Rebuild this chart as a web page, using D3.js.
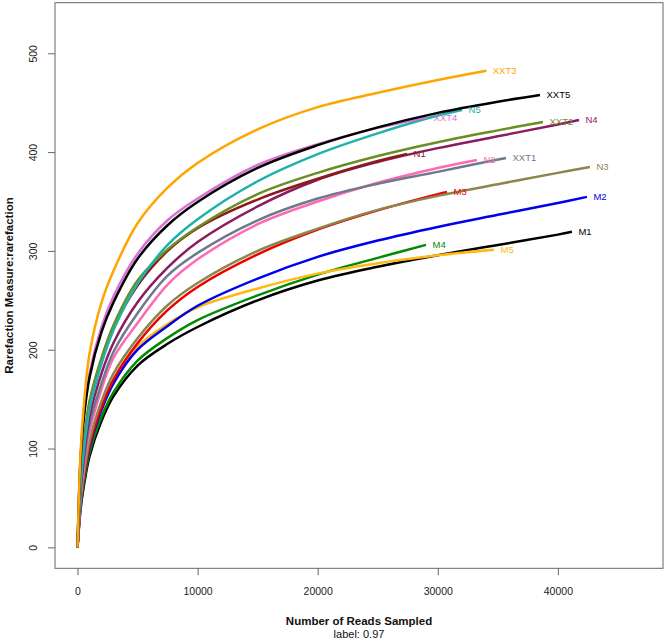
<!DOCTYPE html>
<html>
<head>
<meta charset="utf-8">
<script src="https://cdn.jsdelivr.net/npm/d3@7"></script>
<style>
  html, body { margin: 0; padding: 0; background: #fff; }
  svg { display: block; font-family: "Liberation Sans", Arial, Helvetica, sans-serif; }
</style>
</head>
<body>
<svg id="chart" width="666" height="639"></svg>
<script>
// ---------------- data ----------------
const readsGrid = [0, 250, 500, 1000, 2000, 3000, 5000, 7500, 10000, 15000, 20000, 25000, 30000, 35000, 40000];

const samples = ["XXT3", "XXT5", "XXT4", "N5", "XXT2", "N1", "N4", "XXT1", "N2", "N3", "M3", "M2", "M5", "M4", "M1"];
const colors  = ["#FFA500", "#000000", "#DA70D6", "#20B2AA", "#6B8E23", "#8B1A1A", "#8B1C62", "#6C7B8B", "#FF69B4", "#8B864E", "#EE0000", "#0000EE", "#FFB90F", "#008B00", "#000000"];

// rarefied richness at readsGrid points (until each sample's depth)
const XXT3 = [0, 95, 140, 196, 248, 280, 328, 364, 389, 423, 445.5, 460, 473];
const XXT5 = [0, 88, 128, 172, 218, 248, 292, 326, 349.5, 384, 407, 425, 439.7, 451];
const XXT4 = [0, 90, 131, 176, 223, 254, 297, 331, 353, 387, 408, 424.5];
const N5   = [0, 62, 95, 140, 186, 220, 267, 306, 332, 370.5, 398, 419, 437];
const XXT2 = [0, 68, 102, 148, 192, 225, 270, 301.5, 324, 357.5, 379, 396, 410, 422];
const N1   = [0, 66, 100, 146, 190, 222, 265, 300, 323, 352, 373, 391];
const N4   = [0, 57, 88, 132, 176, 207, 248, 283, 309, 345, 372, 390, 404, 416, 428];
const XXT1 = [0, 55, 84, 124, 166, 198, 237, 275, 298, 331, 353, 368, 380, 392.5];
const N2   = [0, 51, 79, 117, 160, 192, 227, 266, 291.5, 327, 350, 369, 384];
const N3   = [0, 46, 72, 108, 148, 176, 211.5, 245, 267.5, 300, 322.5, 341.5, 355.7, 367.5, 379];
const M3   = [0, 44, 68, 103, 142, 170, 206.5, 240, 263.5, 296.5, 321.5, 341, 357.5];
const M2   = [0, 43, 67, 101, 139, 166, 200, 224, 244.5, 272, 294, 310.5, 324.3, 336.5, 348.5];
const M5   = [0, 44, 69, 104, 141, 168, 203, 226, 243, 262, 277, 287.5, 295.5];
const M4   = [0, 40, 63, 96, 132, 157, 189, 212, 230, 255, 276, 293];
const M1   = [0, 38, 60, 92, 128, 153, 184, 206, 223, 250, 270, 284, 295.7, 306, 316.5];

// final sequencing depth and richness at that depth
const endReads = [34040, 38510, 29100, 32020, 38760, 27440, 41760, 35680, 33260, 42670, 30770, 42420, 34680, 29020, 41170];
const endRich  = [482.4, 457.8, 435.3, 442.7, 430.5, 398.2, 432.5, 394.1, 392.1, 385, 359.7, 354.7, 301.1, 306.1, 319.3];

const seriesValues = [XXT3, XXT5, XXT4, N5, XXT2, N1, N4, XXT1, N2, N3, M3, M2, M5, M4, M1];

const xTicks = [0, 10000, 20000, 30000, 40000];
const yTicks = [0, 100, 200, 300, 400, 500];
const xlim = [0, 46880];
const ylim = [0, 530];
const xTitle = "Number of Reads Sampled";
const xSub = "label: 0.97";
const yTitle = "Rarefaction Measure:rarefaction";

// ---------------- layout ----------------
const box = { left: 55, right: 663, top: 2.7, bottom: 568.3 };
const xr = xlim[1] - xlim[0], yr = ylim[1] - ylim[0];
const x = d3.scaleLinear().domain([xlim[0] - 0.04 * xr, xlim[1] + 0.04 * xr]).range([box.left, box.right]);
const y = d3.scaleLinear().domain([ylim[0] - 0.04 * yr, ylim[1] + 0.04 * yr]).range([box.bottom, box.top]);

const svg = d3.select("#chart");
const axisColor = "#666";
const textColor = "#222";
const tickFont = 10.5;

// box
svg.append("rect")
  .attr("x", box.left).attr("y", box.top)
  .attr("width", box.right - box.left).attr("height", box.bottom - box.top)
  .attr("fill", "none").attr("stroke", axisColor).attr("stroke-width", 1);

// x axis
const xAxis = d3.axisBottom(x).tickValues(xTicks).tickSize(7).tickPadding(12).tickFormat(d3.format("d"));
const gx = svg.append("g").attr("transform", `translate(0,${box.bottom})`).call(xAxis);
gx.select(".domain").remove();
gx.selectAll(".tick line").attr("stroke", axisColor);
gx.selectAll(".tick text").attr("fill", textColor).attr("font-size", tickFont).attr("font-family", "Liberation Sans, Arial, sans-serif");

// y axis
const yAxis = d3.axisLeft(y).tickValues(yTicks).tickSize(7).tickFormat(d3.format("d"));
const gy = svg.append("g").attr("transform", `translate(${box.left},0)`).call(yAxis);
gy.select(".domain").remove();
gy.selectAll(".tick line").attr("stroke", axisColor);
gy.selectAll(".tick text")
  .attr("fill", textColor).attr("font-size", tickFont).attr("font-family", "Liberation Sans, Arial, sans-serif")
  .attr("text-anchor", "middle")
  .attr("x", 0).attr("dy", 0)
  .attr("transform", "translate(-22,0) rotate(-90)")
  .attr("dominant-baseline", "central");

// titles
svg.append("text").attr("x", (box.left + box.right) / 2).attr("y", 625)
  .attr("text-anchor", "middle").attr("font-weight", "bold").attr("font-size", 11.5).attr("fill", "#111")
  .text(xTitle);
svg.append("text").attr("x", (box.left + box.right) / 2).attr("y", 638)
  .attr("text-anchor", "middle").attr("font-size", 11).attr("fill", "#111")
  .text(xSub);
svg.append("text")
  .attr("transform", `translate(9,${(box.top + box.bottom) / 2}) rotate(-90)`)
  .attr("text-anchor", "middle").attr("dominant-baseline", "central")
  .attr("font-weight", "bold").attr("font-size", 11.5).attr("fill", "#111")
  .text(yTitle);

// curves
const line = d3.line().x(d => x(d[0])).y(d => y(d[1])).curve(d3.curveCatmullRom.alpha(0.5));
const series = samples.map((name, i) => {
  const pts = seriesValues[i].map((v, j) => [readsGrid[j], v]);
  pts.push([endReads[i], endRich[i]]);
  return { name, color: colors[i], pts };
});

const order = [14, 13, 12, 11, 10, 9, 8, 7, 6, 5, 4, 3, 2, 1, 0];
svg.append("g").selectAll("path").data(order.map(i => series[i])).join("path")
  .attr("d", d => line(d.pts))
  .attr("fill", "none")
  .attr("stroke", d => d.color)
  .attr("stroke-width", 2.5)
  .attr("stroke-linejoin", "round")
  .attr("stroke-linecap", "butt");

// end labels
svg.append("g").selectAll("text").data(series).join("text")
  .attr("x", d => x(d.pts[d.pts.length - 1][0]) + 6.5)
  .attr("y", d => y(d.pts[d.pts.length - 1][1]))
  .attr("dominant-baseline", "central")
  .attr("font-size", 9.5)
  .attr("fill", d => d.color)
  .text(d => d.name);
</script>
</body>
</html>
